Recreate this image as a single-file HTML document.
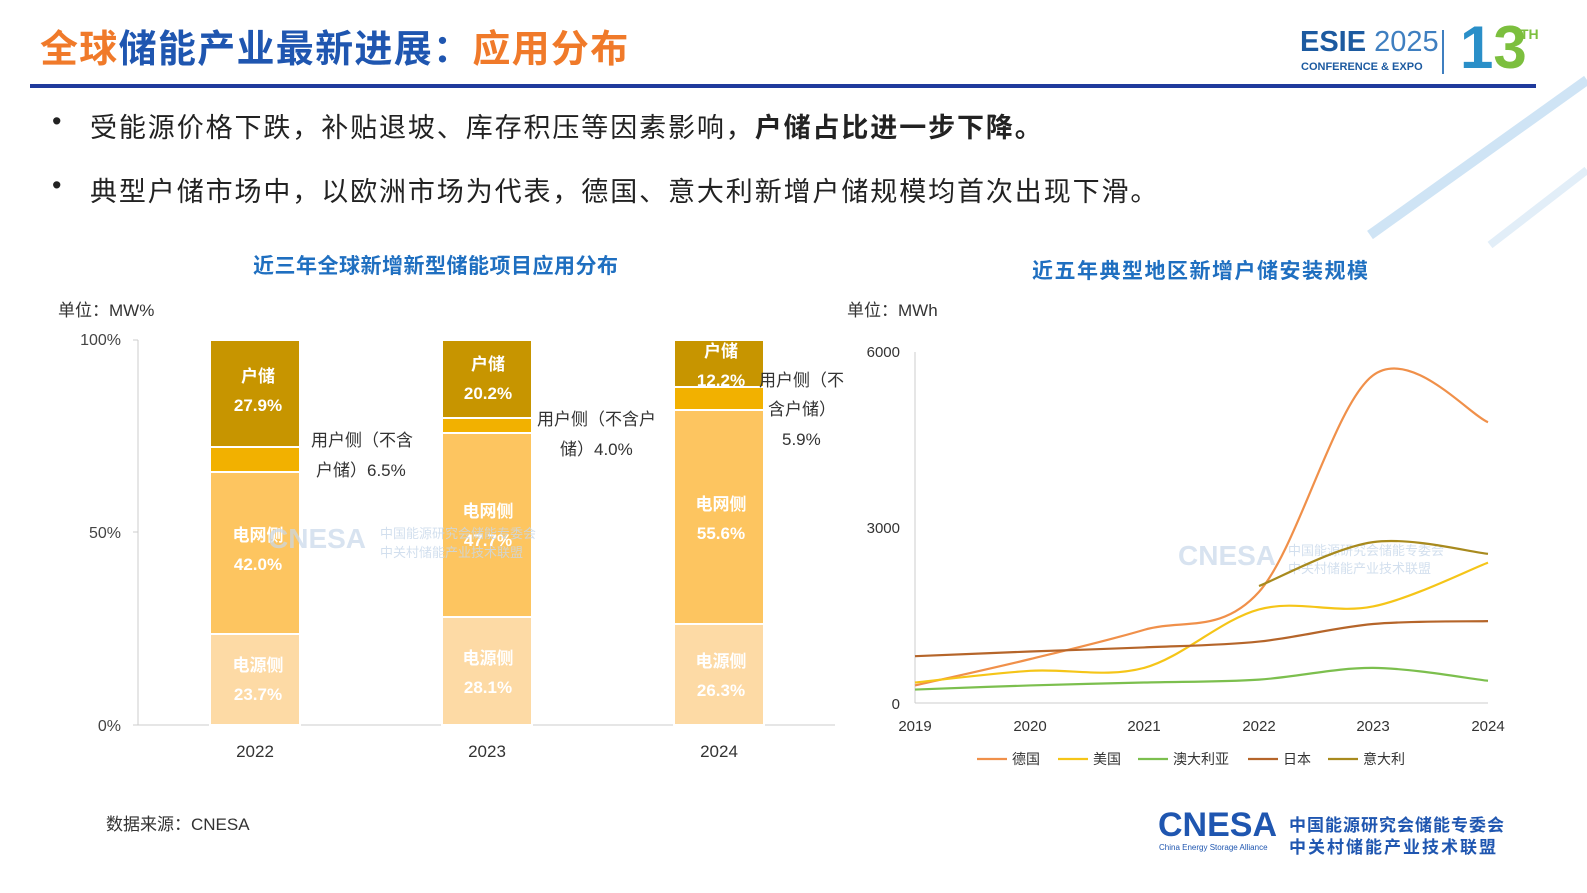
<!DOCTYPE html>
<html><head><meta charset="utf-8">
<style>
body{margin:0;width:1587px;height:893px;background:#fff;overflow:hidden;font-family:"Liberation Sans","Noto Sans CJK SC",sans-serif;position:relative}
.a{position:absolute;white-space:nowrap}
</style></head><body>
<div class="a" style="left:40px;top:18px;font-size:38px;font-weight:bold;color:#f07a2a;letter-spacing:1.3px">全球<span style="color:#1f56b0">储能产业最新进展：</span>应用分布</div>
<div class="a" style="left:30px;top:84px;width:1506px;height:4px;background:#1f3a9c"></div>
<div class="a" style="left:1300px;top:26px;font-size:29px;font-weight:bold;color:#1c5aa0">ESIE <span style="font-weight:normal;color:#3f7fc0">2025</span></div>
<div class="a" style="left:1301px;top:61px;font-size:11px;font-weight:bold;color:#1c5aa0">CONFERENCE &amp; EXPO</div>
<div class="a" style="left:1442px;top:30px;width:2px;height:44px;background:#3f7fc0"></div>
<div class="a" style="left:1460px;top:16px;font-size:60px;font-weight:bold;color:#2a8fc8;line-height:64px">1<span style="color:#7cbf3e">3</span></div>
<div class="a" style="left:1520px;top:26px;font-size:14px;font-weight:bold;color:#7cbf3e">TH</div>
<svg class="a" style="left:1360px;top:60px" width="227" height="200"><line x1="10" y1="175" x2="227" y2="20" stroke="#cfe4f5" stroke-width="10"/><line x1="130" y1="185" x2="227" y2="110" stroke="#e2eef8" stroke-width="8"/></svg>

<div class="a" style="left:52px;top:106px;font-size:27px;color:#222">•</div>
<div class="a" style="left:90px;top:106px;font-size:27px;color:#222;letter-spacing:1.9px">受能源价格下跌，补贴退坡、库存积压等因素影响，<b>户储占比进一步下降。</b></div>
<div class="a" style="left:52px;top:170px;font-size:27px;color:#222">•</div>
<div class="a" style="left:90px;top:170px;font-size:27px;color:#222;letter-spacing:1.9px">典型户储市场中，以欧洲市场为代表，德国、意大利新增户储规模均首次出现下滑。</div>

<div class="a" style="left:253px;top:250px;font-size:21px;font-weight:bold;color:#1f6fc0;letter-spacing:0.5px">近三年全球新增新型储能项目应用分布</div>
<div class="a" style="left:1032px;top:255px;font-size:21px;font-weight:bold;color:#1f6fc0;letter-spacing:1.5px">近五年典型地区新增户储安装规模</div>
<div class="a" style="left:58px;top:296px;font-size:17px;color:#333">单位：MW%</div>
<div class="a" style="left:847px;top:296px;font-size:17px;color:#333">单位：MWh</div>

<svg class="a" style="left:0;top:0" width="1587" height="893" font-family="Liberation Sans, Noto Sans CJK SC, sans-serif">
<g font-size="16" fill="#444" text-anchor="end"><text x="121" y="345">100%</text><text x="121" y="538">50%</text><text x="121" y="731">0%</text></g>
<line x1="138" y1="340" x2="138" y2="725" stroke="#ccc"/><line x1="138" y1="725" x2="835" y2="725" stroke="#ccc"/>
<g stroke="#ccc"><line x1="133" y1="340" x2="138" y2="340"/><line x1="133" y1="532" x2="138" y2="532"/><line x1="133" y1="725" x2="138" y2="725"/></g>
<g stroke="#fff" stroke-width="2">
<rect x="210" y="634" width="90" height="91" fill="#fddaa5"/><rect x="210" y="472" width="90" height="162" fill="#fdc560"/><rect x="210" y="447" width="90" height="25" fill="#f2b100"/><rect x="210" y="340" width="90" height="107" fill="#c79500"/>
<rect x="442" y="617" width="90" height="108" fill="#fddaa5"/><rect x="442" y="433" width="90" height="184" fill="#fdc560"/><rect x="442" y="418" width="90" height="15" fill="#f2b100"/><rect x="442" y="340" width="90" height="78" fill="#c79500"/>
<rect x="674" y="624" width="90" height="101" fill="#fddaa5"/><rect x="674" y="410" width="90" height="214" fill="#fdc560"/><rect x="674" y="387" width="90" height="23" fill="#f2b100"/><rect x="674" y="340" width="90" height="47" fill="#c79500"/>
</g>
<g font-size="17" fill="#fff" text-anchor="middle" font-weight="bold">
<text x="258" y="382">户储</text><text x="258" y="411">27.9%</text>
<text x="258" y="541">电网侧</text><text x="258" y="570">42.0%</text>
<text x="258" y="671">电源侧</text><text x="258" y="700">23.7%</text>
<text x="488" y="370">户储</text><text x="488" y="399">20.2%</text>
<text x="488" y="517">电网侧</text><text x="488" y="546">47.7%</text>
<text x="488" y="664">电源侧</text><text x="488" y="693">28.1%</text>
<text x="721" y="357">户储</text><text x="721" y="386">12.2%</text>
<text x="721" y="510">电网侧</text><text x="721" y="539">55.6%</text>
<text x="721" y="667">电源侧</text><text x="721" y="696">26.3%</text>
</g>
<g font-size="17" fill="#333">
<text x="311" y="446">用户侧（不含</text><text x="316" y="476">户储）6.5%</text>
<text x="537" y="425">用户侧（不含户</text><text x="560" y="455">储）4.0%</text>
<text x="759" y="386">用户侧（不</text><text x="768" y="415">含户储）</text><text x="782" y="445">5.9%</text>
</g>
<g font-size="17" fill="#333" text-anchor="middle"><text x="255" y="757">2022</text><text x="487" y="757">2023</text><text x="719" y="757">2024</text></g>
<text x="268" y="548" font-size="28" font-weight="bold" fill="#c8d8ea" opacity=".7">CNESA</text>
<g font-size="13" fill="#c8d8ea" opacity=".8"><text x="380" y="538">中国能源研究会储能专委会</text><text x="380" y="557">中关村储能产业技术联盟</text></g>

<g font-size="15" fill="#333" text-anchor="end"><text x="900" y="357">6000</text><text x="900" y="533">3000</text><text x="900" y="709">0</text></g>
<line x1="915" y1="352" x2="915" y2="703" stroke="#ccc"/><line x1="915" y1="703" x2="1488" y2="703" stroke="#ccc"/>
<g font-size="15" fill="#333" text-anchor="middle"><text x="915" y="731">2019</text><text x="1030" y="731">2020</text><text x="1144" y="731">2021</text><text x="1259" y="731">2022</text><text x="1373" y="731">2023</text><text x="1488" y="731">2024</text></g>
<text x="1178" y="565" font-size="28" font-weight="bold" fill="#c8d8ea" opacity=".7">CNESA</text>
<g font-size="13" fill="#c8d8ea" opacity=".8"><text x="1288" y="555">中国能源研究会储能专委会</text><text x="1288" y="573">中关村储能产业技术联盟</text></g>
<g id="lines" fill="none" stroke-width="2.2"></g>
<g font-size="14" fill="#333">
<line x1="977" y1="759" x2="1007" y2="759" stroke="#f0904a" stroke-width="2.2"/><text x="1012" y="764">德国</text>
<line x1="1058" y1="759" x2="1088" y2="759" stroke="#f5c518" stroke-width="2.2"/><text x="1093" y="764">美国</text>
<line x1="1138" y1="759" x2="1168" y2="759" stroke="#7cbf4e" stroke-width="2.2"/><text x="1173" y="764">澳大利亚</text>
<line x1="1248" y1="759" x2="1278" y2="759" stroke="#b5652a" stroke-width="2.2"/><text x="1283" y="764">日本</text>
<line x1="1328" y1="759" x2="1358" y2="759" stroke="#a88a1e" stroke-width="2.2"/><text x="1363" y="764">意大利</text>
</g>
</svg>
<div class="a" style="left:106px;top:810px;font-size:17px;color:#333">数据来源：CNESA</div>
<div class="a" style="left:1158px;top:806px;font-size:34px;font-weight:bold;color:#1f56b0">CNESA</div>
<div class="a" style="left:1159px;top:843px;font-size:8px;color:#1f56b0">China Energy Storage Alliance</div>
<div class="a" style="left:1289px;top:811px;font-size:17px;font-weight:bold;color:#1f56b0;letter-spacing:1px">中国能源研究会储能专委会</div>
<div class="a" style="left:1289px;top:833px;font-size:17px;font-weight:bold;color:#1f56b0;letter-spacing:2px">中关村储能产业技术联盟</div>
<script>
var X=[915,1030,1144,1259,1373,1488];
function y(v){return 703-v*0.0585;}
var S=[["#f0904a",[300,750,1250,1900,5600,4800],0],["#f5c518",[350,550,600,1600,1650,2400],0],["#7cbf4e",[230,300,350,400,600,380],0],["#b5652a",[800,880,950,1050,1350,1400],0],["#a88a1e",[2000,2750,2550],3]];
var g=document.getElementById('lines'),h='';
S.forEach(function(s){var p=s[1].map(function(v,i){return [X[i+s[2]],y(v)];});
var d='M'+p[0][0]+','+p[0][1];
for(var i=0;i<p.length-1;i++){var p0=p[i-1]||p[i],p1=p[i],p2=p[i+1],p3=p[i+2]||p2;
d+=' C'+(p1[0]+(p2[0]-p0[0])/6)+','+(p1[1]+(p2[1]-p0[1])/6)+' '+(p2[0]-(p3[0]-p1[0])/6)+','+(p2[1]-(p3[1]-p1[1])/6)+' '+p2[0]+','+p2[1];}
h+='<path d="'+d+'" stroke="'+s[0]+'"/>';});
g.innerHTML=h;
</script>
</body></html>
